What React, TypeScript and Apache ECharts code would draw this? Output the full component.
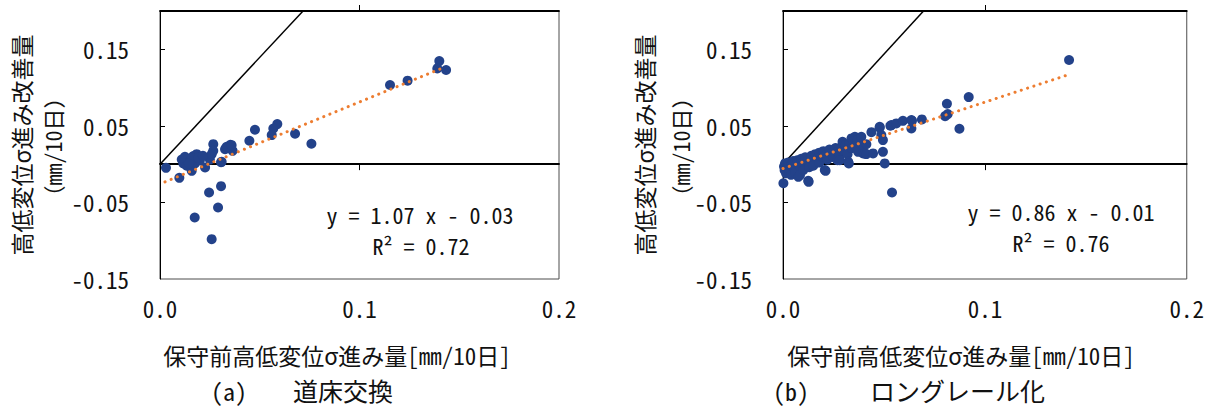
import React, { useEffect, useRef } from 'react';
import * as echarts from 'echarts';

// (a) 道床交換 : [保守前高低変位σ進み量, 高低変位σ進み改善量]
const pointsA: [number, number][] = [
  [0.140, 0.1346], [0.139, 0.125], [0.1434, 0.1229], [0.1241, 0.109], [0.1153, 0.1033],
  [0.0759, 0.0266], [0.0677, 0.0397], [0.0588, 0.0523], [0.0568, 0.0466], [0.056, 0.0379],
  [0.0476, 0.0449], [0.0448, 0.0305], [0.0353, 0.0253], [0.0364, 0.0174], [0.0326, 0.0196],
  [0.0267, 0.0261], [0.0267, 0.0174], [0.0306, 0.0026], [0.0306, -0.0288], [0.0246, -0.037],
  [0.0291, -0.0566], [0.0174, -0.0697], [0.0259, -0.098], [0.003, -0.0048], [0.0097, -0.0179],
  [0.0109, 0.0061], [0.0125, 0.0095], [0.0117, 0.001], [0.0167, 0.0105], [0.0184, 0.013],
  [0.0175, 0.001], [0.015, 0.003], [0.0226, -0.0043], [0.025, 0.006], [0.0259, 0.013],
  [0.0309, 0.003], [0.0334, 0.0226], [0.0359, 0.0248], [0.02, 0.005], [0.0134, -0.002],
  [0.016, 0.008], [0.0192, 0.0085], [0.0159, -0.0087], [0.0215, 0.011], [0.0145, 0.0005],
];

// (b) ロングレール化
const pointsB: [number, number][] = [
  [0.0005, -0.003], [0.001, 0.001], [0.0008, -0.008], [0.0015, -0.012], [0.002, -0.005],
  [0.0025, 0.002], [0.003, -0.009], [0.0002, -0.025], [0.004, -0.002], [0.004, -0.014],
  [0.005, 0.004], [0.006, -0.006], [0.006, -0.011], [0.007, 0.005], [0.0076, -0.0166],
  [0.008, -0.002], [0.0084, -0.0144], [0.009, 0.007], [0.01, 0.002], [0.01, -0.008],
  [0.011, 0.009], [0.012, 0.004], [0.0125, -0.0218], [0.013, -0.004], [0.0127, -0.0231],
  [0.014, 0.011], [0.015, 0.006], [0.015, -0.002], [0.016, 0.013], [0.017, 0.008],
  [0.018, 0.002], [0.018, 0.015], [0.019, 0.01], [0.0207, -0.0078], [0.0211, -0.0087],
  [0.02, 0.017], [0.021, 0.012], [0.022, 0.006], [0.023, 0.019], [0.024, 0.014],
  [0.025, 0.009], [0.026, 0.021], [0.027, 0.016], [0.027, 0.0052], [0.028, 0.011],
  [0.0281, 0.0052], [0.029, 0.023], [0.0295, 0.0292], [0.03, 0.018], [0.031, 0.025],
  [0.032, 0.013], [0.0323, 0.003], [0.0326, 0.0009], [0.033, 0.027], [0.034, 0.021],
  [0.0339, 0.0336], [0.0356, 0.0357], [0.035, 0.03], [0.036, 0.024], [0.037, 0.032],
  [0.0372, 0.0161], [0.0388, 0.0357], [0.0397, 0.0139], [0.0397, 0.0248], [0.0405, 0.014],
  [0.0413, 0.0131], [0.0413, 0.0261], [0.0438, 0.0418], [0.0446, 0.014], [0.0479, 0.0475],
  [0.0479, 0.0488], [0.0487, 0.0379], [0.0495, 0.0314], [0.0495, 0.0161], [0.0504, 0.0009],
  [0.0532, 0.0501], [0.0537, 0.051], [0.054, -0.037], [0.0561, 0.0532], [0.0594, 0.0566],
  [0.0636, 0.0575], [0.0636, 0.0466], [0.0639, 0.0566], [0.0688, 0.0584], [0.0803, 0.0627],
  [0.0816, 0.0654], [0.0812, 0.0789], [0.0874, 0.0462], [0.092, 0.0876], [0.1417, 0.136],
];

const trendA: [number, number][] = [[0.0025, -0.0231], [0.1429, 0.127]];
const trendB: [number, number][] = [[0.0, -0.0057], [0.1414, 0.1168]];
const diagonalA: [number, number][] = [[0, 0], [0.0717, 0.2]];
const diagonalB: [number, number][] = [[0, 0], [0.0696, 0.2]];

const yLabelValues = [-0.15, -0.05, 0.05, 0.15];
const yTickValues = [-0.05, 0.05, 0.15];
const xTickValues = [0.1];

const equationA = ['y = 1.07 x - 0.03', 'R² = 0.72'];
const equationB = ['y = 0.86 x - 0.01', 'R² = 0.76'];
const xTitle = '保守前高低変位σ進み量[mm/10日]';
const yTitle = ['高低変位σ進み改善量', '（mm/10日）'];
const captionA = ['(a)', '道床交換'];
const captionB = ['(b)', 'ロングレール化'];

const FONT = "'Noto Sans Mono CJK JP', 'Noto Sans CJK JP', sans-serif";
const TXT = '#111111';
const DOT = '#23428a';
const ORANGE = '#ed7d31';

function xAxesFor(gridIndex: number) {
  return [
    {
      gridIndex, type: 'value', min: 0, max: 0.2, interval: 0.1, position: 'bottom',
      axisLine: { show: false, onZero: false },
      axisTick: { show: false },
      splitLine: { show: false },
      axisLabel: {
        margin: 17, fontSize: 23, color: TXT, fontFamily: FONT,
        formatter: (v: number) => v.toFixed(1),
      },
    },
    {
      gridIndex, type: 'value', min: 0, max: 0.2, interval: 0.1, position: 'bottom',
      axisLine: { show: true, onZero: true, lineStyle: { color: '#000', width: 1.8 } },
      axisTick: { show: true, length: 6, customValues: xTickValues, lineStyle: { color: '#000', width: 1 } },
      splitLine: { show: false },
      axisLabel: { show: false },
    },
    {
      gridIndex, type: 'value', min: 0, max: 0.2, interval: 0.1, position: 'top',
      axisLine: { show: true, onZero: true, lineStyle: { color: '#000', width: 1.8 } },
      axisTick: { show: true, length: 6, customValues: xTickValues, lineStyle: { color: '#000', width: 1 } },
      splitLine: { show: false },
      axisLabel: { show: false },
    },
  ];
}

function yAxisFor(gridIndex: number) {
  return {
    gridIndex, type: 'value', min: -0.15, max: 0.2, interval: 0.05,
    axisLine: { show: true, onZero: false, lineStyle: { color: '#000', width: 1 } },
    axisTick: { show: true, inside: true, length: 5, customValues: yTickValues, lineStyle: { color: '#000' } },
    splitLine: { show: false },
    axisLabel: {
      customValues: yLabelValues, margin: 31, fontSize: 23, color: TXT, fontFamily: FONT,
      formatter: (v: number) => v.toFixed(2),
    },
  };
}

function seriesFor(xIdx: number, yIdx: number, pts: [number, number][], trend: [number, number][], diag: [number, number][]) {
  return [
    {
      type: 'line', xAxisIndex: xIdx, yAxisIndex: yIdx, data: diag, symbol: 'none',
      lineStyle: { color: '#000', width: 1.5 }, z: 2, silent: true,
    },
    {
      type: 'scatter', xAxisIndex: xIdx, yAxisIndex: yIdx, data: pts, symbolSize: 10,
      itemStyle: { color: DOT, opacity: 1 }, z: 3,
    },
    {
      type: 'line', xAxisIndex: xIdx, yAxisIndex: yIdx, data: trend, symbol: 'none',
      lineStyle: { color: ORANGE, width: 3, type: [0.1, 6.5], cap: 'round' }, z: 4, silent: true,
    },
  ];
}

function txt(text: string, x: number, y: number, size: number, align = 'center', rotation = 0) {
  return {
    type: 'text', x, y, rotation,
    style: {
      text, fontSize: size, lineHeight: size + 2, fontFamily: FONT, fill: TXT,
      align, verticalAlign: 'middle',
    },
  };
}

export default function App() {
  const ref = useRef<HTMLDivElement>(null);
  useEffect(() => {
    if (!ref.current) return;
    const chart = echarts.init(ref.current, null, { renderer: 'svg' });
    chart.setOption({
      animation: false,
      backgroundColor: '#ffffff',
      grid: [
        { left: 160, top: 11, width: 399, height: 268, show: true, borderColor: '#4d4d4d', borderWidth: 1 },
        { left: 783, top: 11, width: 405, height: 268, show: true, borderColor: '#4d4d4d', borderWidth: 1 },
      ],
      xAxis: [...xAxesFor(0), ...xAxesFor(1)],
      yAxis: [yAxisFor(0), yAxisFor(1)],
      series: [
        ...seriesFor(0, 0, pointsA, trendA, diagonalA),
        ...seriesFor(3, 1, pointsB, trendB, diagonalB),
      ],
      graphic: [
        txt(equationA[0], 420, 214, 22),
        txt(equationA[1], 421, 245, 22),
        txt(equationB[0], 1061, 211, 22),
        txt(equationB[1], 1061, 242, 22),
        txt(xTitle, 337, 355, 23),
        txt(xTitle, 961, 355, 23),
        txt(captionA[0], 211, 390, 24, 'left'),
        txt(captionA[1], 293, 390, 25, 'left'),
        txt(captionB[0], 773, 390, 24, 'left'),
        txt(captionB[1], 870, 390, 25, 'left'),
        txt(yTitle[0], 21, 145, 23, 'center', Math.PI / 2),
        txt(yTitle[1], 52, 147, 22, 'center', Math.PI / 2),
        txt(yTitle[0], 644, 145, 23, 'center', Math.PI / 2),
        txt(yTitle[1], 680, 147, 22, 'center', Math.PI / 2),
      ],
    });
    return () => chart.dispose();
  }, []);
  return (
    <div
      ref={ref}
      style={{ position: 'fixed', left: 0, top: 0, width: 1207, height: 407, background: '#fff' }}
    />
  );
}
